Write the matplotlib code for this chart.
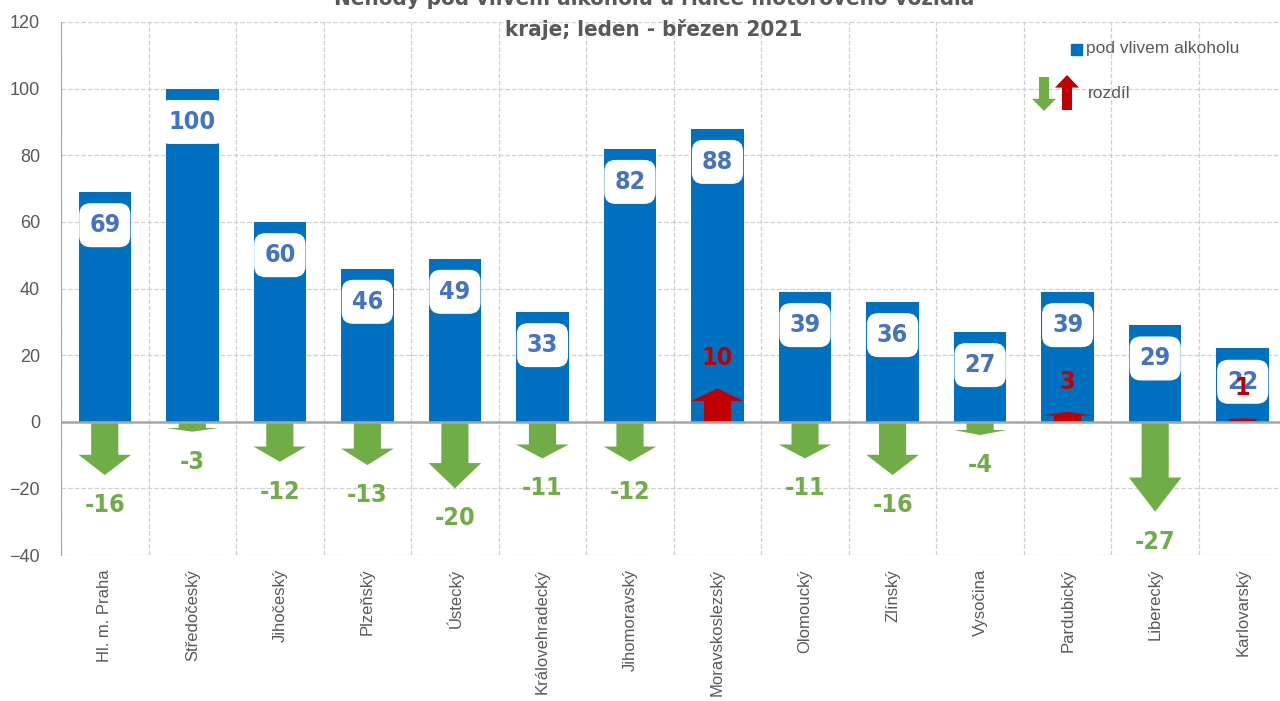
import matplotlib.pyplot as plt
from matplotlib.patches import Polygon, Rectangle

# data
kraje = ["Hl. m. Praha", "Středočeský", "Jihočeský", "Plzeňský", "Ústecký",
         "Královehradecký", "Jihomoravský", "Moravskoslezský", "Olomoucký",
         "Zlínský", "Vysočina", "Pardubický", "Liberecký", "Karlovarský"]
alkohol = [69, 100, 60, 46, 49, 33, 82, 88, 39, 36, 27, 39, 29, 22]
rozdil = [-16, -3, -12, -13, -20, -11, -12, 10, -11, -16, -4, 3, -27, 1]
yticks = [-40, -20, 0, 20, 40, 60, 80, 100, 120]

modra = "#0070C0"
zelena = "#70AD47"
cervena = "#C00000"
seda = "#595959"

plt.rcParams["font.family"] = ["Liberation Sans", "DejaVu Sans"]
UZKY = dict(family=["DejaVu Sans"], fontstretch="condensed")


def sipka(xc, y0, y1, sh, hh, frac=0.38):
    # svisla sipka od y0 do y1, hlava ma podil frac z delky
    yh = y1 - (y1 - y0) * frac
    return [(xc - sh, y0), (xc + sh, y0), (xc + sh, yh), (xc + hh, yh),
            (xc, y1), (xc - hh, yh), (xc - sh, yh)]


fig = plt.figure(figsize=(12.8, 7.01), dpi=100)
ax = fig.add_axes([61 / 1280, 1 - 555 / 701, 1 - 61 / 1280 + 0.003, (555 - 22) / 701])

x = list(range(len(kraje)))
ax.bar(x, alkohol, width=0.6, color=modra, zorder=2)

for i, d in enumerate(rozdil):
    barva = zelena if d < 0 else cervena
    ax.add_patch(Polygon(sipka(i, 0, d, 0.155, 0.3), closed=True,
                         facecolor=barva, edgecolor="none", zorder=3))

for i, v in enumerate(alkohol):
    ax.text(i, v - 10, str(v), ha="center", va="center", fontsize=18,
            fontweight="bold", color="#4472C4", zorder=5, **UZKY,
            bbox=dict(boxstyle="round,pad=0.4,rounding_size=0.45", fc="white", ec="none"))

for i, d in enumerate(rozdil):
    barva = zelena if d < 0 else cervena
    y = d - 9 if d < 0 else d + 9
    ax.text(i, y, str(d), ha="center", va="center", fontsize=18,
            fontweight="bold", color=barva, zorder=6, **UZKY)

ax.set_xlim(-0.5, 13.47)
ax.set_ylim(-40, 120)
ax.set_yticks(yticks)
ax.set_xticks(x)
ax.set_xticklabels(kraje, rotation=90, fontsize=12, color=seda)
ax.tick_params(axis="y", labelsize=13, colors=seda, length=0, pad=15)
ax.tick_params(axis="x", length=0, pad=10)
ax.set_xticks([i + 0.5 for i in x[:-1]] + [-0.5], minor=True)
ax.grid(axis="y", color="#D0D0D0", linestyle="--", linewidth=0.9, zorder=0)
ax.grid(axis="x", which="minor", color="#D0D0D0", linestyle="--", linewidth=0.9, zorder=0)
ax.tick_params(axis="x", which="minor", length=0)
for s in ["top", "right", "bottom"]:
    ax.spines[s].set_visible(False)
ax.spines["left"].set_color("#A6A6A6")
ax.axhline(0, color="#A6A6A6", linewidth=1.8, zorder=4)
ax.set_axisbelow(True)

# titulek (horni radek je v originale oriznuty)
fig.text(0.511, 1.002, "Nehody pod vlivem alkoholu u řidiče motorového vozidla",
         ha="center", va="center", fontsize=16, fontweight="bold", color=seda, **UZKY)
fig.text(0.511, 1 - 30 / 701, "kraje; leden - březen 2021",
         ha="center", va="center", fontsize=16, fontweight="bold", color=seda, **UZKY)

# legenda
W, H = 1280, 701
fig.add_artist(Rectangle((1071 / W, 1 - 55 / H), 11 / W, 11 / H,
                         transform=fig.transFigure, color=modra))
fig.text(1086 / W, 1 - 49 / H, "pod vlivem alkoholu", ha="left", va="center",
         fontsize=12.5, color=seda)
leg_z = [(px / W, 1 - py / H) for px, py in sipka(1044, 77, 111, 5, 12, 0.36)]
leg_c = [(px / W, 1 - py / H) for px, py in sipka(1067, 110, 75, 5, 12, 0.36)]
fig.add_artist(Polygon(leg_z, closed=True, transform=fig.transFigure, fc=zelena, ec="none"))
fig.add_artist(Polygon(leg_c, closed=True, transform=fig.transFigure, fc=cervena, ec="none"))
fig.text(1088 / W, 1 - 93 / H, "rozdíl", ha="left", va="center",
         fontsize=12.5, color=seda)

fig.savefig("out.png", dpi=100)
